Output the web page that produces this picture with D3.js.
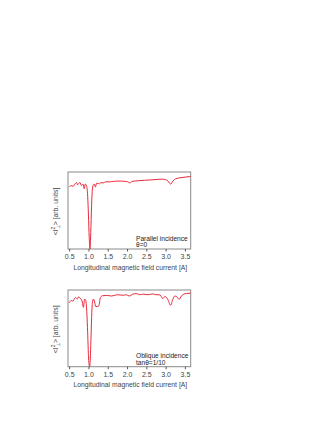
<!DOCTYPE html>
<html>
<head>
<meta charset="utf-8">
<script src="https://cdn.jsdelivr.net/npm/d3@7"></script>
<style>
  body { margin: 0; background: #fff; }
  svg { display: block; font-family: "Liberation Sans", Arial, sans-serif; }
</style>
</head>
<body>
<svg id="chart" width="327" height="423"></svg>
<script>
// (current in A, signal in arb. units 0..1)
const currentTop = [0.50, 0.55, 0.60, 0.65, 0.69, 0.72, 0.75, 0.78, 0.82, 0.86, 0.89, 0.92, 0.95, 0.98, 1.00, 1.02, 1.04, 1.06, 1.08, 1.10, 1.12, 1.15, 1.18, 1.21, 1.25, 1.28, 1.32, 1.38, 1.45, 1.55, 1.65, 1.75, 1.85, 1.95, 2.02, 2.07, 2.13, 2.30, 2.45, 2.60, 2.75, 2.90, 3.00, 3.06, 3.13, 3.19, 3.26, 3.40, 3.55, 3.65];
const signalTop  = [0.82, 0.84, 0.83, 0.86, 0.88, 0.85, 0.87, 0.88, 0.84, 0.86, 0.80, 0.86, 0.84, 0.70, 0.45, 0.15, 0.00, 0.22, 0.56, 0.78, 0.84, 0.86, 0.82, 0.87, 0.87, 0.86, 0.88, 0.875, 0.89, 0.89, 0.895, 0.90, 0.90, 0.895, 0.89, 0.875, 0.895, 0.905, 0.91, 0.915, 0.92, 0.925, 0.92, 0.90, 0.86, 0.90, 0.93, 0.945, 0.955, 0.96];

const currentBottom = [0.50, 0.56, 0.60, 0.63, 0.67, 0.71, 0.75, 0.78, 0.81, 0.84, 0.87, 0.90, 0.93, 0.96, 0.98, 1.00, 1.03, 1.06, 1.08, 1.10, 1.13, 1.16, 1.19, 1.23, 1.27, 1.31, 1.37, 1.47, 1.60, 1.75, 1.90, 1.98, 2.06, 2.15, 2.25, 2.33, 2.42, 2.55, 2.66, 2.75, 2.83, 2.88, 2.93, 2.98, 3.05, 3.13, 3.19, 3.24, 3.29, 3.35, 3.41, 3.50, 3.58, 3.65];
const signalBottom  = [0.85, 0.88, 0.87, 0.90, 0.92, 0.90, 0.93, 0.91, 0.90, 0.86, 0.79, 0.90, 0.88, 0.70, 0.45, 0.15, 0.00, 0.28, 0.62, 0.84, 0.90, 0.86, 0.80, 0.80, 0.81, 0.92, 0.944, 0.948, 0.94, 0.957, 0.95, 0.957, 0.94, 0.965, 0.972, 0.957, 0.965, 0.957, 0.968, 0.957, 0.957, 0.94, 0.905, 0.935, 0.90, 0.817, 0.90, 0.94, 0.93, 0.896, 0.94, 0.97, 0.975, 0.98];

const xTicks = [0.5, 1.0, 1.5, 2.0, 2.5, 3.0, 3.5];

const panels = [
  { x: currentTop, y: signalTop, top: 172, bottom: 249, lines: ["Parallel incidence", "\u03b8=0"] },
  { x: currentBottom, y: signalBottom, top: 290, bottom: 366.7, lines: ["Oblique incidence", "tan\u03b8=1/10"] }
];

const svg = d3.select("#chart");
const left = 68, right = 190.7;

const x = d3.scaleLinear().domain([0.47, 3.65]).range([left, right]);

panels.forEach(p => {
  const y = d3.scaleLinear().domain([0, 1.02]).range([p.bottom, p.top]);
  const g = svg.append("g");

  // frame
  g.append("rect")
    .attr("x", left).attr("y", p.top)
    .attr("width", right - left).attr("height", p.bottom - p.top)
    .attr("fill", "none").attr("stroke", "#8a8a8a").attr("stroke-width", 1);

  const xAxis = g.append("g")
    .attr("transform", `translate(0,${p.bottom})`)
    .call(d3.axisBottom(x).tickValues(xTicks).tickSize(2.5).tickPadding(3).tickFormat(d3.format(".1f")));
  xAxis.select(".domain").remove();
  xAxis.selectAll("line").attr("stroke", "#555");
  xAxis.selectAll("text").attr("font-size", 7).attr("fill", "#444");

  g.append("text")
    .attr("x", (left + right) / 2 + 1).attr("y", p.bottom + 20.5)
    .attr("text-anchor", "middle").attr("font-size", 6.8).attr("fill", "#444")
    .text("Longitudinal magnetic field current [A]");

  // y label
  const yl = g.append("text")
    .attr("transform", `translate(${left - 10},${(p.top + p.bottom) / 2 + 1}) rotate(-90)`)
    .attr("text-anchor", "middle").attr("font-size", 6.8).attr("fill", "#444");
  yl.append("tspan").text("<I");
  yl.append("tspan").attr("font-size", 5).attr("dy", -3).text("2");
  yl.append("tspan").attr("font-size", 5).attr("dx", -2.5).attr("dy", 5).text("\u22a5");
  yl.append("tspan").attr("dy", -2).text(">  [arb. units]");

  // annotation
  p.lines.forEach((t, i) => {
    g.append("text")
      .attr("x", 136).attr("y", p.bottom - 8.5 + i * 6.5)
      .attr("font-size", 6.6).attr("fill", "#222")
      .text(t);
  });

  const line = d3.line()
    .x((d, i) => x(p.x[i]))
    .y(d => y(d))
    .curve(d3.curveMonotoneX);

  g.append("path")
    .datum(p.y)
    .attr("d", line)
    .attr("fill", "none")
    .attr("stroke", "#e8283a")
    .attr("stroke-width", 1);
});
</script>
</body>
</html>
